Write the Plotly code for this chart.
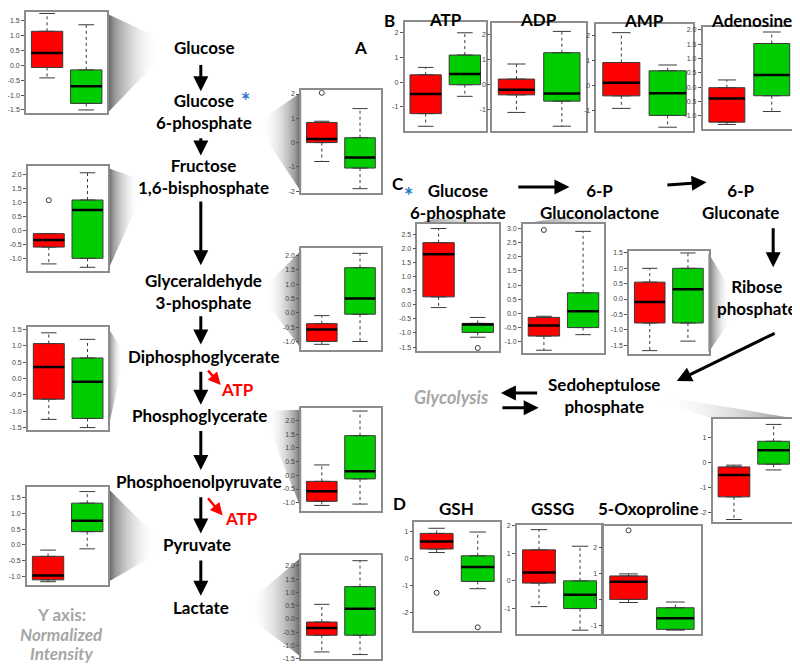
import plotly.graph_objects as go

# box statistics, [red group, green group]
glucose = {"lo": [-0.42, -1.50], "q1": [-0.07, -1.28], "med": [0.42, -0.70], "q3": [1.15, -0.15], "hi": [1.75, 1.37], "out": [[], []]}
g6p = {"lo": [-0.78, -1.90], "q1": [0.00, -1.05], "med": [0.15, -0.62], "q3": [0.83, 0.20], "hi": [0.88, 1.40], "out": [[2.05], []]}
f16bp = {"lo": [-1.20, -1.32], "q1": [-0.60, -1.00], "med": [-0.35, 0.72], "q3": [-0.12, 1.08], "hi": [-0.12, 2.05], "out": [[1.07], []]}
gap = {"lo": [-1.10, -1.00], "q1": [-1.00, -0.05], "med": [-0.58, 0.50], "q3": [-0.38, 1.57], "hi": [-0.10, 2.07], "out": [[], []]}
dpg = {"lo": [-1.25, -1.50], "q1": [-0.63, -1.22], "med": [0.35, -0.10], "q3": [1.07, 0.63], "hi": [1.40, 1.20], "out": [[], []]}
pep = {"lo": [-1.10, -1.05], "q1": [-0.95, -0.13], "med": [-0.58, 0.15], "q3": [-0.22, 1.45], "hi": [0.38, 2.35], "out": [[], []]}
pyruvate = {"lo": [-1.18, -0.13], "q1": [-1.12, 0.42], "med": [-0.98, 0.77], "q3": [-0.37, 1.33], "hi": [-0.17, 1.70], "out": [[], []]}
lactate = {"lo": [-1.25, -1.35], "q1": [-0.62, -0.62], "med": [-0.35, 0.38], "q3": [-0.12, 1.22], "hi": [0.55, 2.20], "out": [[], []]}

atp = {"lo": [-1.78, -0.57], "q1": [-1.27, -0.10], "med": [-0.48, 0.33], "q3": [0.30, 1.10], "hi": [0.60, 2.00], "out": [[], []]}
adp = {"lo": [-1.10, -1.65], "q1": [-0.40, -0.65], "med": [-0.20, -0.35], "q3": [0.23, 1.28], "hi": [0.83, 2.13], "out": [[], []]}
amp = {"lo": [-0.90, -1.65], "q1": [-0.40, -1.18], "med": [0.12, -0.30], "q3": [0.93, 0.60], "hi": [2.12, 0.83], "out": [[], []]}
adenosine = {"lo": [-1.30, -0.85], "q1": [-1.22, -0.30], "med": [-0.40, 0.42], "q3": [-0.02, 1.52], "hi": [0.25, 1.92], "out": [[], []]}

c_g6p = {"lo": [-0.10, -1.15], "q1": [0.28, -0.98], "med": [1.79, -0.70], "q3": [2.20, -0.66], "hi": [2.70, -0.45], "out": [[], [-1.53]]}
gluconolactone = {"lo": [-1.30, -0.75], "q1": [-0.80, -0.50], "med": [-0.43, 0.08], "q3": [-0.14, 0.73], "hi": [-0.10, 2.90], "out": [[2.95], []]}
ribose_p = {"lo": [-1.68, -1.37], "q1": [-0.78, -0.78], "med": [-0.10, 0.32], "q3": [0.55, 1.00], "hi": [1.00, 1.50], "out": [[], []]}
sedoheptulose = {"lo": [-2.27, -0.30], "q1": [-1.37, -0.07], "med": [-0.50, 0.48], "q3": [-0.18, 0.84], "hi": [-0.11, 1.51], "out": [[], []]}

gsh = {"lo": [0.22, -1.12], "q1": [0.35, -0.85], "med": [0.63, -0.32], "q3": [0.93, 0.10], "hi": [1.12, 0.98], "out": [[-1.27], [-2.55]]}
gssg = {"lo": [-0.93, -1.78], "q1": [-0.08, -1.00], "med": [0.30, -0.50], "q3": [1.12, 0.00], "hi": [1.85, 1.25], "out": [[], []]}
oxoproline = {"lo": [-0.12, -1.18], "q1": [0.00, -1.15], "med": [0.68, -0.72], "q3": [0.90, -0.32], "hi": [0.98, -0.10], "out": [[2.65], []]}

half_ticks = [-1.5, -1.0, -0.5, 0.0, 0.5, 1.0, 1.5, 2.0, 2.5, 3.0]
unit_ticks = [-2, -1, 0, 1, 2]

# panel frames in page pixels (x0, x1, top, bottom), y range, ticks
panels = [
    (glucose, 21, 103, 8, 110, -1.6, 1.8, half_ticks),
    (g6p, 298, 378, 87, 191, -2.08, 2.16, unit_ticks),
    (f16bp, 23, 104, 164, 270, -1.46, 2.28, half_ticks),
    (gap, 298, 378, 247, 350, -1.31, 2.24, half_ticks),
    (dpg, 23, 104, 326, 430, -1.56, 1.59, half_ticks),
    (pep, 298, 378, 408, 512, -1.29, 2.47, half_ticks),
    (pyruvate, 22, 104, 488, 587, -1.28, 1.85, half_ticks),
    (lactate, 298, 378, 557, 662, -1.52, 2.41, half_ticks),
    (atp, 402, 484, 18, 128, -1.96, 2.44, unit_ticks),
    (adp, 490, 585, 19, 128, -1.83, 2.47, unit_ticks),
    (amp, 595, 692, 20, 128, -1.79, 2.47, unit_ticks),
    (adenosine, 702, 796, 23, 126, -1.45, 2.10, half_ticks),
    (c_g6p, 415, 497, 222, 351, -1.65, 2.87, half_ticks),
    (gluconolactone, 521, 603, 222, 353, -1.41, 3.17, half_ticks),
    (ribose_p, 628, 708, 250, 354, -1.80, 1.55, half_ticks),
    (sedoheptulose, 712, 795, 419, 523, -2.35, 1.74, unit_ticks),
    (gsh, 412, 498, 523, 634, -2.70, 1.37, unit_ticks),
    (gssg, 515, 601, 527, 637, -1.93, 2.00, unit_ticks),
    (oxoproline, 602, 700, 528, 637, -1.34, 2.80, unit_ticks),
]

W, H = 800, 666
OFF = 8  # the page body adds an 8px margin; draw in page coordinates
FW, FH = W - OFF, H - OFF
FILL = ["#ff0000", "#00cd00"]
EDGE = "#3a3a3a"
FONT = "Lato"
FS = 17

fig = go.Figure()
layout = dict(
    width=FW, height=FH, margin=dict(l=0, r=0, t=0, b=0),
    paper_bgcolor="white", plot_bgcolor="rgba(0,0,0,0)", showlegend=False,
    xaxis=dict(range=[OFF, W], domain=[0, 1], visible=False, fixedrange=True),
    yaxis=dict(range=[H, OFF], domain=[0, 1], visible=False, fixedrange=True),
)

# grey "zoom" wedges linking labels to panels: polygon + which side is dark
wedges = [
    ([103, 155, 155, 103], [10, 34, 56, 110], "right"),
    ([298, 258, 258, 298], [89, 117, 129, 190], "left"),
    ([104, 136, 136, 104], [166, 177, 197, 268], "right"),
    ([298, 262, 262, 298], [249, 285, 300, 348], "left"),
    ([104, 118, 118, 104], [328, 349, 366, 428], "right"),
    ([298, 264, 264, 298], [410, 411, 425, 510], "left"),
    ([104, 152, 152, 104], [490, 538, 556, 584], "right"),
    ([298, 246, 246, 298], [559, 604, 620, 660], "left"),
    ([708, 730, 730, 708], [252, 288, 320, 352], "right"),
]
for xs, ys, side in wedges:
    scale = [[0, "#5e5e5e"], [0.15, "#9a9a9a"], [1, "rgba(255,255,255,0)"]]
    if side == "left":
        scale = [[0, "rgba(255,255,255,0)"], [0.85, "#9a9a9a"], [1, "#5e5e5e"]]
    fig.add_trace(go.Scatter(
        x=xs + [xs[0]], y=ys + [ys[0]], mode="lines", line=dict(width=0),
        fill="toself", fillgradient=dict(type="horizontal", colorscale=scale),
        hoverinfo="skip", xaxis="x", yaxis="y"))

# flatter wedges in panel C, fading from the label towards the panel
for xs, ys, x_from, x_to in [([432, 500, 497, 415], [217, 217, 222, 222], 500, 415),
                             ([565, 630, 603, 521], [215, 215, 222, 222], 630, 521),
                             ([650, 690, 795, 712], [398, 401, 419, 419], 650, 795)]:
    lo_x, hi_x = min(x_from, x_to), max(x_from, x_to)
    scale = [[0, "rgba(255,255,255,0)"], [1, "#8a8a8a"]]
    if x_from > x_to:
        scale = [[0, "#8a8a8a"], [1, "rgba(255,255,255,0)"]]
    fig.add_trace(go.Scatter(
        x=xs + [xs[0]], y=ys + [ys[0]], mode="lines", line=dict(width=0),
        fill="toself", fillgradient=dict(type="horizontal", start=lo_x, stop=hi_x, colorscale=scale),
        hoverinfo="skip", xaxis="x", yaxis="y"))

for i, (d, x0, x1, t, b, lo, hi, ticks) in enumerate(panels, start=2):
    xa, ya = f"x{i}", f"y{i}"
    vals = [v for v in ticks if lo <= v <= hi]
    if ticks is half_ticks:
        text = [f"{v:.1f}" for v in vals]
    else:
        text = [f"{v:d}" for v in vals]
    layout[f"xaxis{i}"] = dict(domain=[(x0 - OFF) / FW, (x1 - OFF) / FW], range=[0.46, 2.54], anchor=ya,
                               showline=True, mirror=True, linecolor="#8c8c8c", linewidth=1.5,
                               showgrid=False, zeroline=False, showticklabels=False, ticks="",
                               fixedrange=True)
    layout[f"yaxis{i}"] = dict(domain=[1 - (b - OFF) / FH, 1 - (t - OFF) / FH], range=[lo, hi], anchor=xa,
                               showline=True, mirror=True, linecolor="#8c8c8c", linewidth=1.5,
                               showgrid=False, zeroline=False, ticks="outside", ticklen=3,
                               tickcolor="#555", tickwidth=1, tickvals=vals, ticktext=text,
                               tickfont=dict(family="Liberation Sans", size=7, color="#444"),
                               fixedrange=True)
    for k in range(2):
        pos = k + 1
        fig.add_trace(go.Box(
            x=[pos], q1=[d["q1"][k]], median=[d["med"][k]], q3=[d["q3"][k]],
            lowerfence=[d["q1"][k]], upperfence=[d["q3"][k]], width=0.8,
            fillcolor=FILL[k], line=dict(color=EDGE, width=1), boxpoints=False,
            hoverinfo="skip", xaxis=xa, yaxis=ya))
        # dashed whiskers
        fig.add_trace(go.Scatter(
            x=[pos, pos, None, pos, pos], y=[d["q3"][k], d["hi"][k], None, d["q1"][k], d["lo"][k]],
            mode="lines", line=dict(color=EDGE, width=1, dash="dot"),
            hoverinfo="skip", xaxis=xa, yaxis=ya))
        # whisker caps
        fig.add_trace(go.Scatter(
            x=[pos - 0.2, pos + 0.2, None, pos - 0.2, pos + 0.2],
            y=[d["hi"][k], d["hi"][k], None, d["lo"][k], d["lo"][k]],
            mode="lines", line=dict(color=EDGE, width=1),
            hoverinfo="skip", xaxis=xa, yaxis=ya))
        # thick median
        fig.add_trace(go.Scatter(
            x=[pos - 0.4, pos + 0.4], y=[d["med"][k], d["med"][k]],
            mode="lines", line=dict(color="black", width=2.5),
            hoverinfo="skip", xaxis=xa, yaxis=ya))
        if d["out"][k]:
            fig.add_trace(go.Scatter(
                x=[pos] * len(d["out"][k]), y=d["out"][k], mode="markers",
                marker=dict(symbol="circle-open", size=5, color=EDGE, line=dict(width=1)),
                hoverinfo="skip", xaxis=xa, yaxis=ya))

fig.update_layout(**layout)

# text labels (page pixel positions)
labels = [
    ("Glucose", 200, 44), ("Glucose<br>6-phosphate", 200, 109), ("Fructose<br>1,6-bisphosphate", 200, 174),
    ("Glyceraldehyde<br>3-phosphate", 200, 290), ("Diphosphoglycerate", 200, 356),
    ("Phosphoglycerate", 196, 416), ("Phosphoenolpyruvate", 195, 483), ("Pyruvate", 193, 546),
    ("Lactate", 197, 610),
    ("Glucose<br>6-phosphate", 456, 200), ("6-P<br>Gluconolactone", 598, 200), ("6-P<br>Gluconate", 740, 200),
    ("Ribose<br>phosphate", 757, 297), ("Sedoheptulose<br>phosphate", 603, 396),
    ("ATP", 443, 16), ("ADP", 537, 16), ("AMP", 643, 17), ("Adenosine", 751, 17),
    ("GSH", 454, 510), ("GSSG", 551, 510), ("5-Oxoproline", 648, 510),
]
for txt, x, y in labels:
    fig.add_annotation(x=x, y=y, xref="x", yref="y", text=f"<b>{txt}</b>", showarrow=False,
                       font=dict(family=FONT, size=FS, color="black"))

for txt, x, y in [("A", 358, 44), ("B", 387, 17), ("C", 395, 181), ("D", 397, 505)]:
    fig.add_annotation(x=x, y=y, xref="x", yref="y", text=f"<b>{txt}</b>", showarrow=False,
                       font=dict(family=FONT, size=FS, color="black"))

for x, y in [(242, 97), (406, 193)]:
    fig.add_annotation(x=x, y=y, xref="x", yref="y", text="<b>*</b>", showarrow=False,
                       font=dict(family=FONT, size=22, color="#1f77c8"))

for x, y in [(215, 390), (219, 520)]:
    fig.add_annotation(x=x, y=y, xref="x", yref="y", text="<b>ATP</b>", showarrow=False,
                       xanchor="left", font=dict(family=FONT, size=FS, color="#ff0000"))

fig.add_annotation(x=449, y=397, xref="x", yref="y", text="<b><i>Glycolysis</i></b>", showarrow=False,
                   font=dict(family=FONT, size=18, color="#a6a6a6"))
for txt, y in [("<b>Y axis:</b>", 617), ("<b><i>Normalized</i></b>", 637), ("<b><i>Intensity</i></b>", 656)]:
    fig.add_annotation(x=57, y=y, xref="x", yref="y", text=txt, showarrow=False,
                       font=dict(family=FONT, size=FS, color="#a6a6a6"))

# pathway arrows (tail -> head)
arrows = [
    (197, 60, 197, 88), (197, 134, 197, 153), (197, 198, 197, 264), (197, 314, 197, 344),
    (197, 370, 197, 405), (197, 430, 197, 471), (197, 497, 197, 535), (197, 561, 197, 598),
    (515, 185, 568, 185), (665, 183, 706, 180), (773, 225, 773, 266), (776, 332, 676, 381),
    (537, 393, 499, 393), (499, 408, 537, 408),
]
for ax, ay, x, y in arrows:
    fig.add_annotation(x=x, y=y, ax=ax, ay=ay, xref="x", yref="y", axref="x", ayref="y",
                       text="", showarrow=True, arrowhead=2, arrowsize=1, arrowwidth=3,
                       arrowcolor="black")
for ax, ay, x, y in [(203, 369, 217, 385), (203, 498, 219, 517)]:
    fig.add_annotation(x=x, y=y, ax=ax, ay=ay, xref="x", yref="y", axref="x", ayref="y",
                       text="", showarrow=True, arrowhead=2, arrowsize=1, arrowwidth=2.5,
                       arrowcolor="#ff0000")

fig.write_html("out.html")
